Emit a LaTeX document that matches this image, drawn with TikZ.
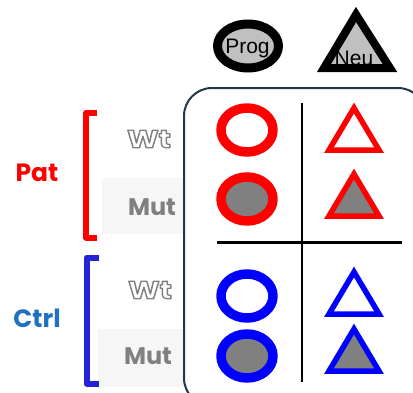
\documentclass[tikz,border=0pt]{standalone}
\usepackage{fontspec}
\newfontfamily\labelfont{Poppins}
\newfontfamily\keyfont{Liberation Sans}
\definecolor{boxline}{RGB}{28,58,74}
\definecolor{patred}{RGB}{255,0,0}
\definecolor{ctrlblue}{RGB}{0,0,255}
\definecolor{bracketblue}{RGB}{35,35,215}
\definecolor{ctrltext}{RGB}{30,112,192}
\definecolor{mutgray}{RGB}{128,128,128}
\definecolor{shadegray}{RGB}{246,246,246}
\definecolor{keygray}{RGB}{192,192,192}
% hollow (stroked) text, a little wider
\newcommand\hollow[1]{%
  \scalebox{1.25}[1.05]{\special{pdf:literal direct 1 Tr 1.2 w}#1\special{pdf:literal direct 0 Tr}}}
\tikzset{
  ring/.style={line width=9.5pt},
  tri/.style={line width=5.5pt, line join=miter},
  grouplbl/.style={font=\labelfont\bfseries\fontsize{25}{27}\selectfont},
  rowlbl/.style={font=\labelfont\bfseries\fontsize{24}{26}\selectfont, text=mutgray},
  keylbl/.style={font=\keyfont\fontsize{21}{23}\selectfont, anchor=base, inner sep=0pt}
}
% triangle marker: apex x, apex y, colour, fill
\newcommand\marktri[4]{%
  \draw[tri, draw=#3, fill=#4] (#1,#2) -- ++(25,42) -- ++(-50,0) -- cycle;}
\begin{document}
\begin{tikzpicture}[x=1pt, y=-1pt, line join=round]
\useasboundingbox (0,0) rectangle (413,392);
% pale bands behind the Mut labels
\fill[shadegray] (102,178) rectangle (201,234);
\fill[shadegray] (98,329) rectangle (197,387);
% frame
\begin{scope}
\clip (0,0) rectangle (413,392);
\draw[boxline, line width=2pt, fill=white, rounded corners=28pt] (184,88) rectangle (426,406);
\end{scope}
% key
\draw[line width=9pt, fill=keygray] (248,46) ellipse [x radius=30.5, y radius=22];
\node[keylbl] (prog) at (247.5,53) {Prog};
\draw[line width=8pt, line join=miter, fill=keygray] (356,14.5) -- (390,68) -- (324,68) -- cycle;
\node[keylbl] (neu) at (354,65) {Neu};
% grid lines
\draw[line width=2.5pt] (302,103) -- (302,382);
\draw[line width=3pt] (217,242) -- (402,242);
% circles
\draw[ring, patred] (247,130) ellipse [x radius=26, y radius=22];
\draw[ring, patred, fill=mutgray] (247,199) ellipse [x radius=26, y radius=22];
\draw[ring, ctrlblue] (247,296) ellipse [x radius=26, y radius=22];
\draw[ring, ctrlblue, fill=mutgray] (247,356) ellipse [x radius=26, y radius=22];
% triangles
\marktri{354}{108}{patred}{white}
\marktri{354}{174}{patred}{mutgray}
\marktri{354}{272}{ctrlblue}{white}
\marktri{354}{329}{ctrlblue}{mutgray}
% brackets
\draw[patred, line width=6pt] (97,113) -- (86,113) -- (86,237.5) -- (97,237.5);
\draw[bracketblue, line width=6pt] (99,257.5) -- (86.7,257.5) -- (86.7,383.7) -- (99,383.7);
% labels
\node[grouplbl, text=patred] (pat) at (37,173) {Pat};
\node[grouplbl, text=ctrltext] (ctrl) at (37,318) {Ctrl};
\node[rowlbl] (patwt) at (149,139) {\hollow{Wt}};
\node[rowlbl] (patmut) at (152,207) {Mut};
\node[rowlbl] (ctrlwt) at (150,290) {\hollow{Wt}};
\node[rowlbl] (ctrlmut) at (148,356) {Mut};
\end{tikzpicture}
\end{document}
